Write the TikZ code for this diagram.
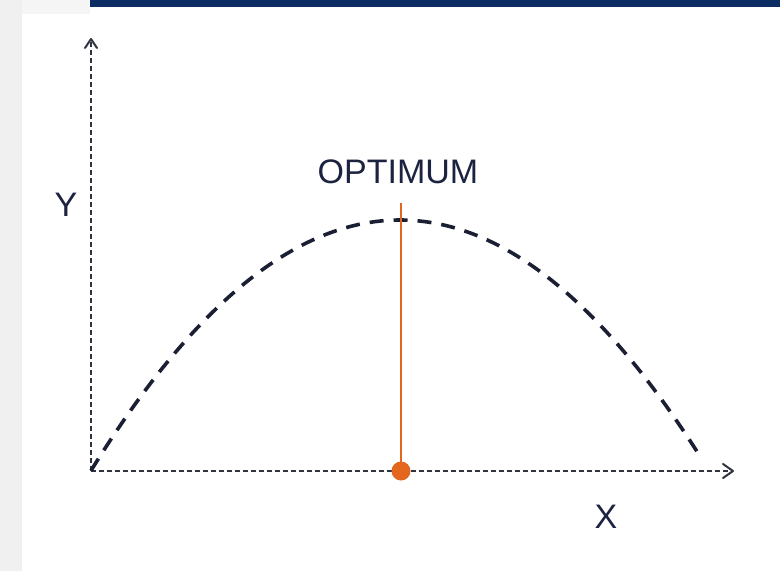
\documentclass[tikz,border=0pt]{standalone}
\usepackage{fontspec}
\setmainfont{Liberation Sans}
\usetikzlibrary{arrows.meta}
\definecolor{navy}{HTML}{0B2D63}
\definecolor{ink}{HTML}{1C2340}
\definecolor{axisc}{HTML}{2F3340}
\definecolor{curvec}{HTML}{1A1F33}
\definecolor{orangec}{HTML}{E2661E}
\definecolor{sidegray}{HTML}{F0F0F0}
\tikzset{
  axisline/.style={draw=axisc, line width=2pt, dash pattern=on 5pt off 3pt},
  axishead/.style={draw=axisc, line width=2pt, line cap=round, line join=round},
  curveline/.style={draw=curvec, line width=3.6pt, dash pattern=on 14pt off 10pt},
  lbl/.style={text=ink, font=\fontsize{34}{38}\selectfont, inner sep=0pt}
}
\begin{document}
\begin{tikzpicture}[x=1pt,y=-1pt]
\useasboundingbox (0,0) rectangle (780,571);
\fill[white] (0,0) rectangle (780,571);
\fill[sidegray] (0,0) rectangle (22,571);
\fill[sidegray!70] (22,0) rectangle (90,14);
\fill[navy] (90,0) rectangle (780,7);
\coordinate (O) at (91,471);
\coordinate (Ytip) at (91,39);
\coordinate (Xtip) at (733,471);
\draw[axisline] (O) -- (Ytip);
\draw[axisline] (O) -- (Xtip);
\draw[axishead] ([shift={(-6,9)}]Ytip) -- (Ytip) -- ([shift={(6,9)}]Ytip);
\draw[axishead] ([shift={(-10,-7)}]Xtip) -- (Xtip) -- ([shift={(-10,7)}]Xtip);
\draw[curveline] plot[domain=91:697, samples=80, smooth] (\x, {220+0.002629*(\x-400)*(\x-400)});
\coordinate (OptTop) at (401,203);
\node[circle, fill=orangec, minimum size=19pt, inner sep=0pt] (dot) at (401,471) {};
\draw[orangec, line width=2.4pt] (OptTop) -- (dot.center);
\node[lbl] (opt) at (398,172) {OPTIMUM};
\node[lbl] (ylab) at (66,205) {Y};
\node[lbl] (xlab) at (606,517) {X};
\end{tikzpicture}
\end{document}
